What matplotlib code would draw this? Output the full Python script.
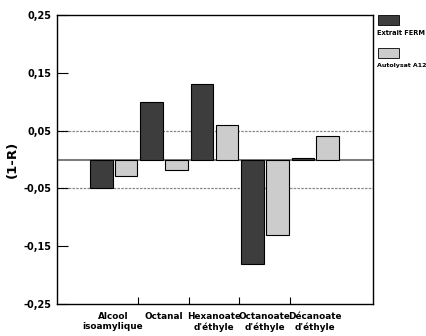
import numpy as np
import matplotlib
matplotlib.use("Agg")
import matplotlib.pyplot as plt
from matplotlib.patches import Rectangle

plt.rcParams["font.family"] = ["DejaVu Sans"]

categories = ["Alcool\nisoamylique", "Octanal", "Hexanoate\nd'éthyle",
              "Octanoate\nd'éthyle", "Décanoate\nd'éthyle"]
extrait_ferm = [-0.05, 0.10, 0.13, -0.18, 0.002]
autolysat_a12 = [-0.028, -0.018, 0.06, -0.13, 0.04]
series_names = ["Extrait FERM", "Autolysat A12"]
yticks = [0.25, 0.15, 0.05, -0.05, -0.15, -0.25]
ytick_labels = ["0,25", "0,15", "0,05", "-0,05", "-0,15", "-0,25"]

DARK = "#3d3d3d"
LIGHT = "#cccccc"


def main():
    fig = plt.figure(figsize=(4.26, 3.36), dpi=100)
    ax = fig.add_axes([57 / 426, 1 - 304 / 336, 316 / 426, 289 / 336])

    x = np.arange(len(categories))
    w = 0.45
    ax.bar(x - 0.235, extrait_ferm, w, color=DARK, edgecolor="black", linewidth=0.8, zorder=3)
    ax.bar(x + 0.255, autolysat_a12, w, color=LIGHT, edgecolor="black", linewidth=0.8, zorder=3)

    ax.axhline(0, color="#555555", linewidth=1.1, zorder=2)
    for v in (0.05, -0.05):
        ax.axhline(v, color="#888888", linewidth=0.9, linestyle=(0, (2, 1)), zorder=1)

    ax.set_xlim(-1.11, 5.15)
    ax.set_ylim(-0.25, 0.25)

    ax.set_yticks(yticks)
    ax.set_yticklabels(ytick_labels, fontsize=7, fontweight="bold")
    ax.tick_params(axis="y", direction="in", length=8, width=0.8, pad=4)

    ax.set_xticks(x[:-1] + 0.5)
    ax.set_xticklabels([])
    ax.set_xticks(x, minor=True)
    ax.set_xticklabels(categories, minor=True, fontsize=6.4, fontweight="bold", linespacing=1.15)
    ax.tick_params(axis="x", which="major", direction="in", length=5, width=0.8)
    ax.tick_params(axis="x", which="minor", length=0, pad=6)

    for s in ax.spines.values():
        s.set_linewidth(1.0)

    ax.set_ylabel("(1-R)", fontsize=9.5, fontweight="bold")
    ax.yaxis.set_label_coords(-0.12, 0.5)

    # legend drawn by hand outside the axes
    fig.patches.append(Rectangle((378 / 426, 1 - 25 / 336), 21 / 426, 10 / 336,
                                 facecolor=DARK, edgecolor="black", linewidth=0.6,
                                 transform=fig.transFigure))
    fig.text(377 / 426, 1 - 33 / 336, series_names[0], fontsize=4.8, fontweight="bold",
             va="center", ha="left")
    fig.patches.append(Rectangle((378 / 426, 1 - 58 / 336), 21 / 426, 10 / 336,
                                 facecolor=LIGHT, edgecolor="black", linewidth=0.6,
                                 transform=fig.transFigure))
    fig.text(377 / 426, 1 - 66 / 336, series_names[1], fontsize=4.5, fontweight="bold",
             va="center", ha="left")

    fig.savefig("out.png", dpi=100)
    plt.close(fig)


if __name__ == "__main__":
    main()
